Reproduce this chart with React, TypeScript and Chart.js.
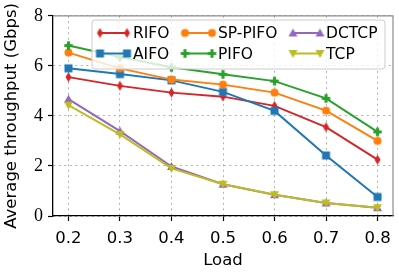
import React, { useEffect, useRef } from "react";
import { Chart, registerables } from "chart.js";

Chart.register(...registerables);

const loads = [0.2, 0.3, 0.4, 0.5, 0.6, 0.7, 0.8];
const seriesNames = ["RIFO", "AIFO", "SP-PIFO", "PIFO", "DCTCP", "TCP"];
const rifo = [5.55, 5.2, 4.93, 4.77, 4.4, 3.55, 2.25];
const aifo = [5.9, 5.67, 5.42, 4.96, 4.2, 2.42, 0.76];
const spPifo = [6.53, 5.9, 5.45, 5.25, 4.93, 4.21, 3.0];
const pifo = [6.81, 6.35, 5.94, 5.66, 5.39, 4.7, 3.36];
const dctcp = [4.67, 3.39, 1.98, 1.27, 0.85, 0.52, 0.33];
const tcp = [4.43, 3.26, 1.9, 1.27, 0.85, 0.52, 0.33];
const yTicks = [0, 2, 4, 6, 8];

const colors = ["#d62728", "#1f77b4", "#ff7f0e", "#2ca02c", "#9467bd", "#bcbd22"];
const markers = ["thinDiamond", "square", "circle", "plus", "triUp", "triDown"];

function makeMarker(kind: string, color: string): HTMLCanvasElement {
  const s = 11;
  const c = document.createElement("canvas");
  c.width = s;
  c.height = s;
  const g = c.getContext("2d")!;
  g.fillStyle = color;
  const m = s / 2;
  g.beginPath();
  if (kind === "thinDiamond") {
    g.moveTo(m, m - 5);
    g.lineTo(m + 3, m);
    g.lineTo(m, m + 5);
    g.lineTo(m - 3, m);
  } else if (kind === "square") {
    g.rect(m - 4, m - 4, 8, 8);
  } else if (kind === "circle") {
    g.arc(m, m, 4, 0, Math.PI * 2);
  } else if (kind === "plus") {
    const a = 1.6, b = 4.2;
    g.moveTo(m - a, m - b);
    g.lineTo(m + a, m - b);
    g.lineTo(m + a, m - a);
    g.lineTo(m + b, m - a);
    g.lineTo(m + b, m + a);
    g.lineTo(m + a, m + a);
    g.lineTo(m + a, m + b);
    g.lineTo(m - a, m + b);
    g.lineTo(m - a, m + a);
    g.lineTo(m - b, m + a);
    g.lineTo(m - b, m - a);
    g.lineTo(m - a, m - a);
  } else if (kind === "triUp") {
    g.moveTo(m, m - 4.5);
    g.lineTo(m + 4.5, m + 3.5);
    g.lineTo(m - 4.5, m + 3.5);
  } else if (kind === "triDown") {
    g.moveTo(m, m + 4.5);
    g.lineTo(m + 4.5, m - 3.5);
    g.lineTo(m - 4.5, m - 3.5);
  }
  g.closePath();
  g.fill();
  return c;
}

const FONT_SANS = "'DejaVu Sans', sans-serif";

export default function App() {
  const ref = useRef<HTMLCanvasElement>(null);
  useEffect(() => {
    const values = [rifo, aifo, spPifo, pifo, dctcp, tcp];
    const imgs = markers.map((k, i) => makeMarker(k, colors[i]));

    const framePlugin = {
      id: "frame",
      beforeDatasetsDraw(chart: any) {
        const { ctx, chartArea: a } = chart;
        ctx.save();
        ctx.strokeStyle = "#8c8c8c";
        ctx.lineWidth = 1.2;
        ctx.beginPath();
        ctx.moveTo(a.left, a.top);
        ctx.lineTo(a.right, a.top);
        ctx.lineTo(a.right, a.bottom);
        ctx.stroke();
        ctx.restore();
      },
    };

    const legendPlugin = {
      id: "customLegend",
      afterDatasetsDraw(chart: any) {
        const { ctx } = chart;
        const x0 = 92, y0 = 20, w = 293, h = 49;
        ctx.save();
        ctx.fillStyle = "rgba(255,255,255,0.8)";
        ctx.strokeStyle = "#cccccc";
        ctx.lineWidth = 1;
        ctx.beginPath();
        const r = 3;
        ctx.moveTo(x0 + r, y0);
        ctx.lineTo(x0 + w - r, y0);
        ctx.arcTo(x0 + w, y0, x0 + w, y0 + r, r);
        ctx.lineTo(x0 + w, y0 + h - r);
        ctx.arcTo(x0 + w, y0 + h, x0 + w - r, y0 + h, r);
        ctx.lineTo(x0 + r, y0 + h);
        ctx.arcTo(x0, y0 + h, x0, y0 + h - r, r);
        ctx.lineTo(x0, y0 + r);
        ctx.arcTo(x0, y0, x0 + r, y0, r);
        ctx.closePath();
        ctx.fill();
        ctx.stroke();
        const colX = [100, 185, 293];
        const rowY = [33, 53.5];
        ctx.font = `15.5px ${FONT_SANS}`;
        ctx.textBaseline = "middle";
        seriesNames.forEach((name, i) => {
          const col = Math.floor(i / 2);
          const row = i % 2;
          const lx = colX[col];
          const ly = rowY[row];
          ctx.strokeStyle = colors[i];
          ctx.lineWidth = 2;
          ctx.beginPath();
          ctx.moveTo(lx, ly);
          ctx.lineTo(lx + 27, ly);
          ctx.stroke();
          const img = imgs[i];
          ctx.drawImage(img, lx - img.width / 2, ly - img.height / 2);
          ctx.drawImage(img, lx + 27 - img.width / 2, ly - img.height / 2);
          ctx.fillStyle = "#000";
          ctx.fillText(name, lx + 33, ly + 1);
        });
        ctx.restore();
      },
    };

    const chart = new Chart(ref.current!, {
      type: "line",
      data: {
        datasets: seriesNames.map((name, i) => ({
          label: name,
          data: loads.map((x, j) => ({ x, y: values[i][j] })),
          borderColor: colors[i],
          backgroundColor: colors[i],
          borderWidth: 2,
          pointStyle: imgs[i] as any,
          pointRadius: 4,
          tension: 0,
          order: seriesNames.length - i,
        })),
      },
      options: {
        animation: false,
        responsive: false,
        maintainAspectRatio: false,
        layout: { padding: { top: 13, right: 6, left: 0, bottom: 0 } },
        plugins: { legend: { display: false }, tooltip: { enabled: false } },
        scales: {
          x: {
            type: "linear",
            min: 0.17,
            max: 0.83,
            afterBuildTicks: (s: any) => {
              s.ticks = loads.map((v) => ({ value: v }));
            },
            afterFit: (s: any) => {
              s.height = 61;
            },
            ticks: {
              callback: (v: any) => Number(v).toFixed(1),
              font: { family: FONT_SANS, size: 16.5 },
              color: "#000",
              padding: 8,
              maxRotation: 0,
            },
            grid: {
              color: "#b0b0b0",
              lineWidth: 1,
              tickColor: "#000",
              tickLength: 5,
              tickWidth: 1.2,
            },
            border: { color: "#000", width: 1.3, dash: [2, 3.5] },
            title: {
              display: true,
              text: "Load",
              font: { family: FONT_SANS, size: 16.5 },
              color: "#000",
              padding: { top: 0, bottom: 6 },
            },
          },
          y: {
            type: "linear",
            min: 0,
            max: 8,
            afterBuildTicks: (s: any) => {
              s.ticks = yTicks.map((v) => ({ value: v }));
            },
            afterFit: (s: any) => {
              s.width = 53;
            },
            ticks: {
              font: { family: "'Liberation Serif', serif", size: 18 },
              color: "#000",
              padding: 5,
            },
            grid: {
              color: "#b0b0b0",
              lineWidth: 1,
              tickColor: "#000",
              tickLength: 5,
              tickWidth: 1.2,
            },
            border: { color: "#000", width: 1.3, dash: [2, 3.5] },
            title: {
              display: true,
              text: "Average throughput (Gbps)",
              font: { family: FONT_SANS, size: 16.5 },
              color: "#000",
              padding: { top: 2, bottom: 0 },
            },
          },
        },
      },
      plugins: [framePlugin, legendPlugin],
    });
    return () => chart.destroy();
  }, []);
  return (
    <div style={{ position: "absolute", left: 0, top: 0, width: 399, height: 277, background: "#fff" }}>
      <canvas ref={ref} width={399} height={277} style={{ width: 399, height: 277 }} />
    </div>
  );
}
